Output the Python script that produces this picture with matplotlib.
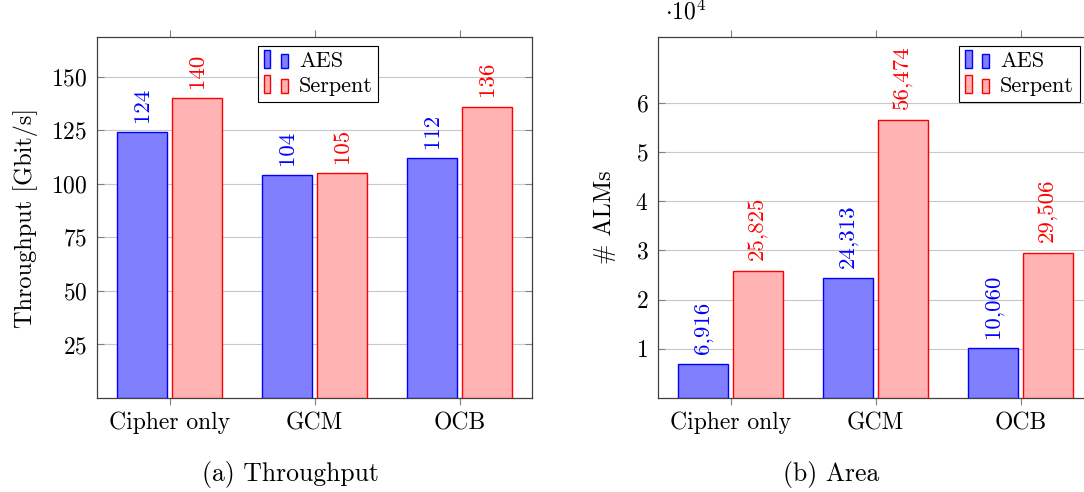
import matplotlib
matplotlib.use("Agg")
import matplotlib.pyplot as plt
from matplotlib.patches import Rectangle
from matplotlib.legend_handler import HandlerBase
import numpy as np

plt.rcParams.update({
    "font.family": "serif",
    "font.serif": ["cmr10"],
    "mathtext.fontset": "cm",
    "axes.formatter.use_mathtext": True,
    "axes.unicode_minus": False,
})

categories = ["Cipher only", "GCM", "OCB"]
series = ["AES", "Serpent"]
throughput_aes = [124, 104, 112]
throughput_serpent = [140, 105, 136]
area_aes = [6916, 24313, 10060]
area_serpent = [25825, 56474, 29506]
throughput_ticks = [25, 50, 75, 100, 125, 150]
area_ticks = [1, 2, 3, 4, 5, 6]

face = {"AES": "#8080ff", "Serpent": "#ffb3b3"}
edge = {"AES": "#0000ff", "Serpent": "#ff0000"}
FS_TICK = 17
FS_VAL = 16.5
FS_LEG = 16
FS_LAB = 17.5
FS_CAP = 18.5


class TwoBarHandler(HandlerBase):
    def create_artists(self, legend, orig_handle, xdescent, ydescent,
                       width, height, fontsize, trans):
        fc = orig_handle.get_facecolor()
        ec = orig_handle.get_edgecolor()
        bw = width * 0.24
        h = height * 1.15
        y0 = -ydescent - height * 0.05
        arts = []
        for x0, hh in [(0, h), (width * 0.6, h * 0.8)]:
            r = Rectangle((x0 - xdescent, y0), bw, hh, facecolor=fc,
                          edgecolor=ec, lw=1.0, transform=trans)
            arts.append(r)
        return arts


fig = plt.figure(figsize=(10.84, 4.92), dpi=100)
axw = 435 / 1084
axh = 361 / 492
ax1 = fig.add_axes([97 / 1084, 94 / 492, axw, axh])
ax2 = fig.add_axes([658 / 1084, 94 / 492, axw, axh])

x = np.arange(len(categories))
off = 0.19
bw = 0.35


def draw(ax, aes, serp, scale, ylim, ticks, gap):
    handles = []
    for vals, name, sgn in [(aes, "AES", -1), (serp, "Serpent", 1)]:
        v = np.array(vals) / scale
        bars = ax.bar(x + sgn * off, v, bw, color=face[name],
                      edgecolor=edge[name], lw=1.0, zorder=3, label=name)
        handles.append(bars[0])
        for xi, vi, raw in zip(x + sgn * off, v, vals):
            ax.annotate(f"{raw:,}", (xi, vi), xytext=(0, gap),
                        textcoords="offset points", rotation=90,
                        ha="center", va="bottom", color=edge[name],
                        fontsize=FS_VAL, zorder=4)
    ax.set_xlim(-0.5, 2.5)
    ax.set_ylim(*ylim)
    ax.set_yticks(ticks)
    ax.set_xticks(x)
    ax.set_xticklabels(categories)
    ax.tick_params(axis="x", direction="out", top=True, bottom=True,
                   length=5, width=0.8, color="#808080", labelsize=FS_TICK,
                   pad=5)
    ax.tick_params(axis="y", direction="in", left=True, right=True,
                   length=5, width=0.8, color="#808080", labelsize=FS_TICK,
                   pad=7)
    ax.grid(axis="y", color="#c8c8c8", lw=0.8, zorder=0)
    for s in ax.spines.values():
        s.set_color("#404040")
        s.set_linewidth(0.9)
    return handles


h1 = draw(ax1, throughput_aes, throughput_serpent, 1, (0, 168.5),
          throughput_ticks, 7.5)
h2 = draw(ax2, area_aes, area_serpent, 1e4, (0, 7.33), area_ticks, 7.5)

ax1.set_ylabel("Throughput [Gbit/s]", fontsize=FS_LAB, labelpad=9)
ax2.set_ylabel("# ALMs", fontsize=FS_LAB, labelpad=14)
ax2.text(0.015, 1.035, r"$\cdot 10^4$", transform=ax2.transAxes,
         fontsize=FS_TICK, ha="left", va="bottom")

for ax, hs, anchor in [(ax1, h1, (0.37, 0.975)), (ax2, h2, (0.692, 0.975))]:
    leg = ax.legend(hs, series, loc="upper left", bbox_to_anchor=anchor,
                    handler_map={Rectangle: TwoBarHandler()},
                    fontsize=FS_LEG, frameon=True, fancybox=False,
                    edgecolor="#000000", framealpha=1, borderpad=0.25,
                    handlelength=1.3, handletextpad=0.3, labelspacing=0.25,
                    borderaxespad=0)
    leg.get_frame().set_linewidth(0.8)
    leg.set_zorder(10)

fig.text(290 / 1084, 1 - 474 / 492, "(a) Throughput", ha="center",
         va="center", fontsize=FS_CAP)
fig.text(831 / 1084, 1 - 474 / 492, "(b) Area", ha="center",
         va="center", fontsize=FS_CAP)

fig.savefig("out.png", dpi=100)
